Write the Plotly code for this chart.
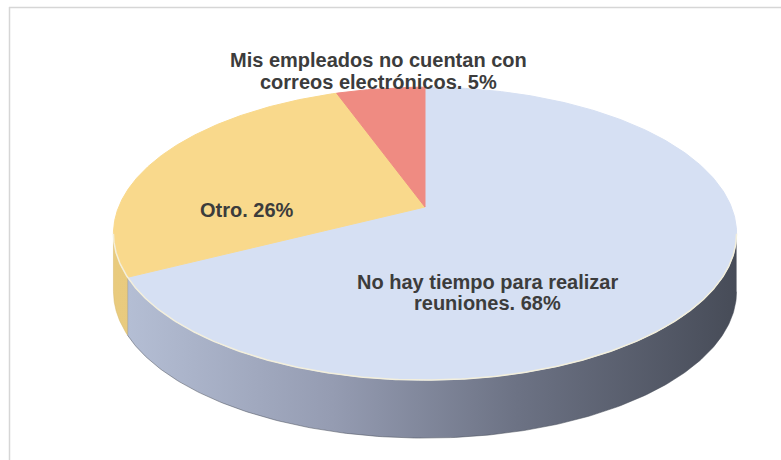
import numpy as np
import plotly.graph_objects as go

# Survey answers, percentages as labelled
categories = [
    "No hay tiempo para realizar reuniones",
    "Otro",
    "Mis empleados no cuentan con correos electrónicos",
]
values = [68, 26, 5]
label_lines = [
    ["No hay tiempo para realizar", "reuniones. 68%"],
    ["Otro. 26%"],
    ["Mis empleados no cuentan con", "correos electrónicos. 5%"],
]

top_colors = ["#D6E0F3", "#F9D98C", "#EF8B82"]
wall_scales = [
    [[0, "#B6C0D6"], [0.35, "#959CB2"], [0.65, "#6C7284"], [1, "#474C58"]],
    [[0, "#E9CB7E"], [1, "#D7B868"]],
    [[0, "#D8766E"], [1, "#B85E58"]],
]
# centre of each label block and its line pitch (px)
label_pos = [(487, 292.5), (247, 210), (378, 71)]
line_pitch = 21.5

W, H = 781, 460
cx, cy = 425, 219
rx, ry = 310, 145
depth = 58
persp = 0.1


def project(theta, dy=0.0):
    p = 1.0 / (1.0 + persp * np.sin(theta))
    return cx + rx * np.cos(theta) * p, cy - ry * np.sin(theta) * p + dy


# slice boundaries, clockwise from 12 o'clock
total = float(sum(values))
bounds = np.pi / 2 - 2 * np.pi * np.concatenate([[0], np.cumsum(values)]) / total

# visible front side of the disc: between the left and right silhouette points
ts = np.linspace(-np.pi, 0, 4001)
xs, _ = project(ts)
t_left = ts[np.argmin(xs)]
t_right = ts[np.argmax(xs)]

fig = go.Figure()

# side walls
for i in range(len(values)):
    a, b = bounds[i], bounds[i + 1]  # a > b (clockwise)
    for shift in (0, -2 * np.pi, 2 * np.pi):
        lo = max(b + shift, t_left)
        hi = min(a + shift, t_right)
        if hi > lo:
            t = np.linspace(hi, lo, 200)
            x1, y1 = project(t)
            x2, y2 = project(t[::-1], depth)
            fig.add_trace(go.Scatter(
                x=np.concatenate([x1, x2]), y=np.concatenate([y1, y2]),
                mode="lines", fill="toself",
                line=dict(width=0.5, color=wall_scales[i][-1][1]),
                fillgradient=dict(type="horizontal", colorscale=wall_scales[i],
                                  start=cx - rx, stop=cx + rx),
                hoverinfo="skip", showlegend=False,
            ))

# top faces
for i in range(len(values)):
    t = np.linspace(bounds[i], bounds[i + 1], 300)
    x, y = project(t)
    fig.add_trace(go.Scatter(
        x=np.concatenate([[cx], x, [cx]]), y=np.concatenate([[cy - 12], y, [cy - 12]]),
        mode="lines", fill="toself", fillcolor=top_colors[i],
        line=dict(width=1, color=top_colors[i]),
        hoverinfo="skip", showlegend=False,
    ))

# light rim along the front edge
t = np.linspace(t_right, t_left, 400)
x, y = project(t)
fig.add_trace(go.Scatter(x=x, y=y, mode="lines",
                         line=dict(width=1.5, color="#F3EFDC"),
                         hoverinfo="skip", showlegend=False))

# data labels, one annotation per text line
for lines, (lx, ly) in zip(label_lines, label_pos):
    n = len(lines)
    for j, txt in enumerate(lines):
        fig.add_annotation(x=lx, y=ly + (j - (n - 1) / 2) * line_pitch, text=txt,
                           showarrow=False, xanchor="center", yanchor="middle",
                           font=dict(family="Liberation Sans, Arial", size=20,
                                     color="#3C3C3C", weight="bold"))

# chart-area frame
fig.add_shape(type="line", x0=9, x1=W, y0=7.5, y1=7.5,
              line=dict(color="#D6D6D6", width=1.5))
fig.add_shape(type="line", x0=9.5, x1=9.5, y0=7, y1=H,
              line=dict(color="#D6D6D6", width=1.5))

fig.update_layout(
    width=W, height=H,
    margin=dict(l=0, r=0, t=0, b=0),
    paper_bgcolor="white", plot_bgcolor="white",
    xaxis=dict(range=[0, W], visible=False, fixedrange=True),
    yaxis=dict(range=[H, 0], visible=False, fixedrange=True),
    showlegend=False,
)

fig.write_html("out.html")
